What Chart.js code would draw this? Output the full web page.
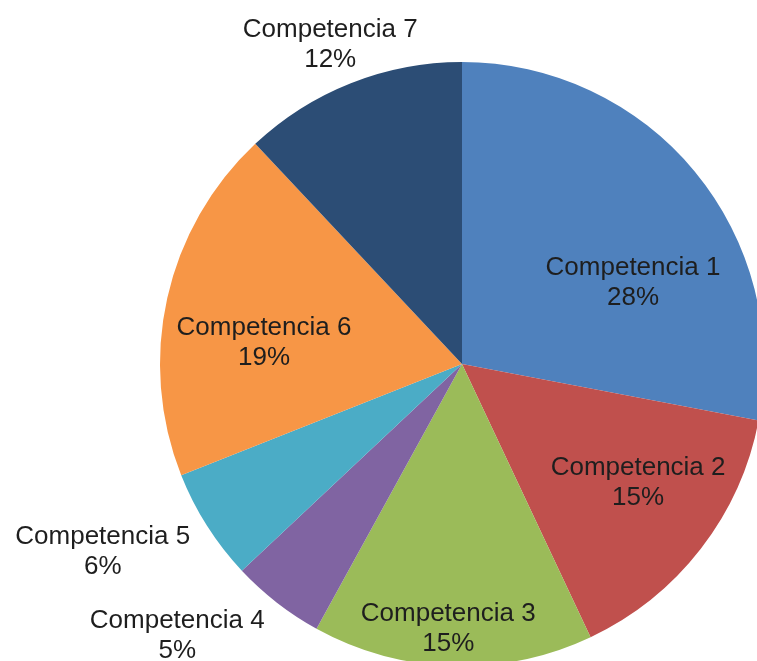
<!DOCTYPE html>
<html>
<head>
<meta charset="utf-8">
<script src="https://cdn.jsdelivr.net/npm/chart.js@4/dist/chart.umd.min.js"></script>
<style>
  html, body { margin: 0; padding: 0; background: #fff; overflow: hidden; }
  #wrap { position: absolute; left: 0; top: 0; width: 800px; height: 700px; }
</style>
</head>
<body>
<div id="wrap"><canvas id="pie"></canvas></div>
<script>
const labels = ['Competencia 1', 'Competencia 2', 'Competencia 3', 'Competencia 4', 'Competencia 5', 'Competencia 6', 'Competencia 7'];
const shares = [28, 15, 15, 5, 6, 19, 12];
const colors = ['#4f81bd', '#c0504d', '#9bbb59', '#8064a2', '#4bacc6', '#f79646', '#2c4d75'];

// label placement: distance from centre (fraction of radius) and angular nudge (degrees)
const labelDist = [0.63, 0.70, 0.87, 1.30, 1.34, 0.66, 1.15];
const labelNudge = [13.6, -4.2, 1.2, 8.7, 5.0, -6.0, -0.7];

const sliceLabels = {
  id: 'sliceLabels',
  afterDatasetsDraw(chart) {
    const ctx = chart.ctx;
    const meta = chart.getDatasetMeta(0);
    ctx.save();
    ctx.font = '26px "Liberation Sans", Arial, sans-serif';
    ctx.fillStyle = '#1e1e1e';
    ctx.textAlign = 'center';
    ctx.textBaseline = 'middle';
    meta.data.forEach((arc, i) => {
      const mid = (arc.startAngle + arc.endAngle) / 2 + labelNudge[i] * Math.PI / 180;
      const r = arc.outerRadius * labelDist[i];
      const x = arc.x + Math.cos(mid) * r;
      const y = arc.y + Math.sin(mid) * r;
      ctx.fillText(labels[i], x, y - 13);
      ctx.fillText(shares[i] + '%', x, y + 17);
    });
    ctx.restore();
  }
};

new Chart(document.getElementById('pie'), {
  type: 'pie',
  data: {
    labels: labels,
    datasets: [{ data: shares, backgroundColor: colors, borderWidth: 0 }]
  },
  options: {
    responsive: true,
    maintainAspectRatio: false,
    animation: false,
    layout: { padding: { left: 160, top: 62, right: 36, bottom: 34 } },
    plugins: { legend: { display: false }, tooltip: { enabled: false } }
  },
  plugins: [sliceLabels]
});
</script>
</body>
</html>
